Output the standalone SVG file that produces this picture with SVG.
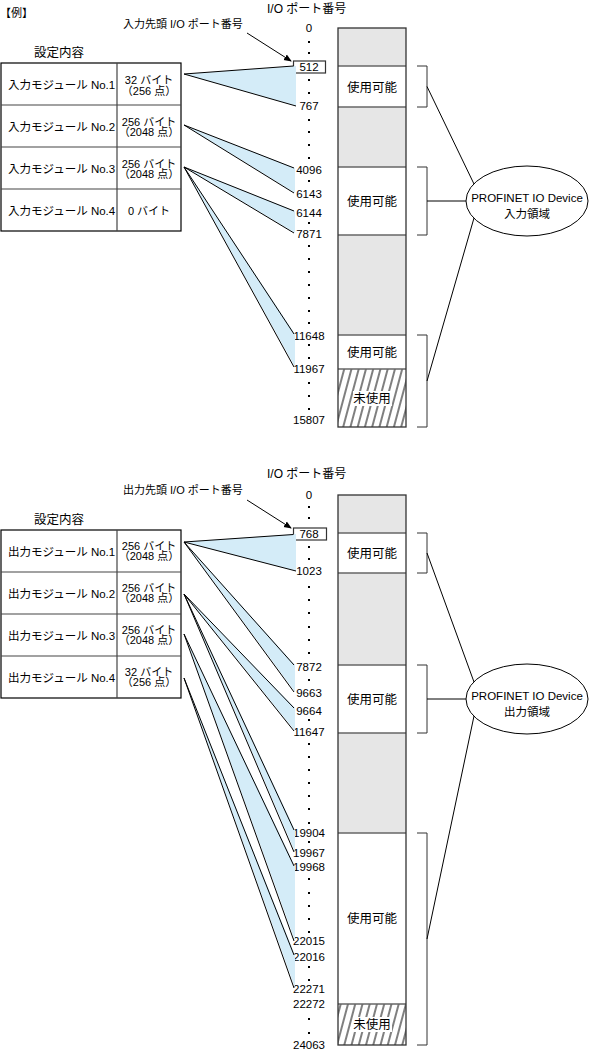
<svg xmlns="http://www.w3.org/2000/svg" width="596" height="1052" viewBox="0 0 596 1052">
<style>
text{font-family:"Liberation Sans","Noto Sans CJK JP",sans-serif;fill:#000}
.t11{font-size:11px}
.t115{font-size:11.5px}
.t12{font-size:12px}
.dev{font-size:11.5px;text-anchor:middle}
.lbl{font-size:12.5px;text-anchor:middle}
.mid{text-anchor:middle}
.num{font-size:11.5px;text-anchor:middle}
.cell{fill:#fff;stroke:#000;stroke-width:1.2}
.row{fill:none;stroke:#444;stroke-width:1.2}
.gray{fill:#e6e6e6}
.white{fill:#fff}
.div{stroke:#666;stroke-width:1.5}
.outer{fill:none;stroke:#333;stroke-width:1.3}
.br{fill:none;stroke:#333;stroke-width:1}
.wf{fill:#d4ecf8;stroke:none}
.ws{fill:none;stroke:#000;stroke-width:1}
.ln{stroke:#000;stroke-width:1;fill:none}
</style>
<defs>
<marker id="arr" markerWidth="8" markerHeight="8" refX="7" refY="4" orient="auto" markerUnits="userSpaceOnUse">
<path d="M0,0.8 L8,4 L0,7.2 Z" fill="#000"/>
</marker>
<pattern id="hatch" patternUnits="userSpaceOnUse" width="7" height="20" patternTransform="rotate(15)">
<line x1="1" y1="0" x2="1" y2="20" stroke="#000" stroke-width="1"/>
</pattern>
<g id="dotm"><rect x="-1" y="-1" width="2" height="2" fill="#000"/></g>
</defs>

<text class="t11" x="0" y="17">【例】</text>

<!-- ===== TOP (input) ===== -->
<g id="in-labels">
<text class="t12" x="267" y="13">I/O ポート番号</text>
<text class="t11" x="123" y="28">入力先頭 I/O ポート番号</text>
<text class="lbl" x="59" y="57">設定内容</text>
</g>

<g id="in-table">
<rect class="cell" x="1" y="63" width="180" height="168"/>
<line class="row" x1="117" y1="63" x2="117" y2="231"/>
<line class="row" x1="1" y1="105" x2="181" y2="105"/>
<line class="row" x1="1" y1="147" x2="181" y2="147"/>
<line class="row" x1="1" y1="189" x2="181" y2="189"/>
<g id="in-mod1"><text class="t115" x="8" y="89">入力モジュール No.1</text><text class="t11 mid" x="149" y="84">32 バイト</text><text class="t11 mid" x="149" y="95">（256 点）</text></g>
<g id="in-mod2"><text class="t115" x="8" y="131">入力モジュール No.2</text><text class="t11 mid" x="149" y="125.5">256 バイト</text><text class="t11 mid" x="149" y="135.5">（2048 点）</text></g>
<g id="in-mod3"><text class="t115" x="8" y="173">入力モジュール No.3</text><text class="t11 mid" x="149" y="167.5">256 バイト</text><text class="t11 mid" x="149" y="177.5">（2048 点）</text></g>
<g id="in-mod4"><text class="t115" x="8" y="215">入力モジュール No.4</text><text class="t11 mid" x="149" y="215">0 バイト</text></g>
</g>

<g id="in-ports">
<text class="num" x="309" y="32">0</text>
<rect x="293.5" y="61" width="32" height="12" fill="#fff" stroke="#333" stroke-width="1.2"/>
<text class="num" x="309" y="71">512</text>
<text class="num" x="309" y="110">767</text>
<text class="num" x="309" y="174">4096</text>
<text class="num" x="309" y="198">6143</text>
<text class="num" x="309" y="217">6144</text>
<text class="num" x="309" y="238">7871</text>
<text class="num" x="309" y="340">11648</text>
<text class="num" x="309" y="373">11967</text>
<text class="num" x="309" y="424">15807</text>
<g>
<use href="#dotm" x="309" y="42"/><use href="#dotm" x="309" y="53"/>
<use href="#dotm" x="309" y="80"/><use href="#dotm" x="309" y="93"/>
<use href="#dotm" x="309" y="120"/><use href="#dotm" x="309" y="132"/><use href="#dotm" x="309" y="145"/><use href="#dotm" x="309" y="158"/>
<use href="#dotm" x="309" y="181"/>
<use href="#dotm" x="309" y="223"/>
<use href="#dotm" x="309" y="246"/><use href="#dotm" x="309" y="259"/><use href="#dotm" x="309" y="272"/><use href="#dotm" x="309" y="285"/><use href="#dotm" x="309" y="298"/><use href="#dotm" x="309" y="311"/><use href="#dotm" x="309" y="323"/>
<use href="#dotm" x="309" y="345"/><use href="#dotm" x="309" y="358"/>
<use href="#dotm" x="309" y="383"/><use href="#dotm" x="309" y="396"/><use href="#dotm" x="309" y="409"/>
</g>
</g>

<g id="in-memory">
<rect class="gray" x="338" y="28" width="68" height="38"/>
<rect class="white" x="338" y="66" width="68" height="41"/>
<rect class="gray" x="338" y="107" width="68" height="60"/>
<rect class="white" x="338" y="167" width="68" height="68"/>
<rect class="gray" x="338" y="235" width="68" height="100"/>
<rect class="white" x="338" y="335" width="68" height="34"/>
<rect fill="#fff" x="338" y="369" width="68" height="58"/>
<rect fill="url(#hatch)" x="338" y="369" width="68" height="58"/>
<rect fill="#fff" x="353" y="391" width="39" height="15"/>
<line class="div" x1="338" y1="66" x2="406" y2="66"/>
<line class="div" x1="338" y1="107" x2="406" y2="107"/>
<line class="div" x1="338" y1="167" x2="406" y2="167"/>
<line class="div" x1="338" y1="235" x2="406" y2="235"/>
<line class="div" x1="338" y1="335" x2="406" y2="335"/>
<line class="div" x1="338" y1="369" x2="406" y2="369"/>
<rect class="outer" x="338" y="28" width="68" height="399"/>
<text class="lbl" x="372" y="92">使用可能</text>
<text class="lbl" x="372" y="206">使用可能</text>
<text class="lbl" x="372" y="357">使用可能</text>
<text class="lbl" x="372" y="403">未使用</text>
</g>

<g id="in-device">
<ellipse cx="527" cy="201" rx="61" ry="35" fill="#fff" stroke="#000" stroke-width="1"/>
<text class="dev" x="527" y="201.5">PROFINET IO Device</text>
<text class="dev" x="527" y="218">入力領域</text>
</g>

<g id="in-connectors">
<path class="ln" d="M247,33 L291,61" marker-end="url(#arr)"/>
<polygon class="wf" points="184,74 296,66 296,106"/>
<path class="ws" d="M293.5,66 L184,74 L296,106"/>
<polygon class="wf" points="184,125 295,168 295,193"/>
<path class="ws" d="M294,168 L184,125 L294,193"/>
<polygon class="wf" points="184,167 295,211 295,233"/>
<path class="ws" d="M294,211 L184,167 L294,233"/>
<polygon class="wf" points="184,167 295,334 295,367"/>
<path class="ws" d="M294,334 L184,167 L294,367"/>
<path class="br" d="M417,66 H427 V107 H417"/>
<path class="br" d="M417,167 H427 V235 H417"/>
<path class="br" d="M417,335 H427 V427 H417"/>
<line class="ln" x1="427" y1="86.5" x2="474" y2="184"/>
<line class="ln" x1="427" y1="201" x2="466" y2="201"/>
<line class="ln" x1="427" y1="381" x2="474" y2="218"/>
</g>

<!-- ===== BOTTOM (output) ===== -->
<g id="out-labels">
<text class="t12" x="267" y="478">I/O ポート番号</text>
<text class="t11" x="123" y="494">出力先頭 I/O ポート番号</text>
<text class="lbl" x="59" y="524">設定内容</text>
</g>

<g id="out-table">
<rect class="cell" x="1" y="530" width="180" height="168"/>
<line class="row" x1="117" y1="530" x2="117" y2="698"/>
<line class="row" x1="1" y1="572" x2="181" y2="572"/>
<line class="row" x1="1" y1="614" x2="181" y2="614"/>
<line class="row" x1="1" y1="656" x2="181" y2="656"/>
<g id="out-mod1"><text class="t115" x="8" y="556">出力モジュール No.1</text><text class="t11 mid" x="149" y="550">256 バイト</text><text class="t11 mid" x="149" y="560">（2048 点）</text></g>
<g id="out-mod2"><text class="t115" x="8" y="598">出力モジュール No.2</text><text class="t11 mid" x="149" y="592">256 バイト</text><text class="t11 mid" x="149" y="602">（2048 点）</text></g>
<g id="out-mod3"><text class="t115" x="8" y="640">出力モジュール No.3</text><text class="t11 mid" x="149" y="634">256 バイト</text><text class="t11 mid" x="149" y="644">（2048 点）</text></g>
<g id="out-mod4"><text class="t115" x="8" y="682">出力モジュール No.4</text><text class="t11 mid" x="149" y="676">32 バイト</text><text class="t11 mid" x="149" y="686">（256 点）</text></g>
</g>

<g id="out-ports">
<text class="num" x="309" y="499">0</text>
<rect x="293.5" y="528" width="33" height="12" fill="#fff" stroke="#333" stroke-width="1.2"/>
<text class="num" x="309" y="538">768</text>
<text class="num" x="309" y="575">1023</text>
<text class="num" x="309" y="671">7872</text>
<text class="num" x="309" y="697">9663</text>
<text class="num" x="309" y="715">9664</text>
<text class="num" x="309" y="736">11647</text>
<text class="num" x="309" y="837">19904</text>
<text class="num" x="309" y="857">19967</text>
<text class="num" x="309" y="871">19968</text>
<text class="num" x="309" y="945">22015</text>
<text class="num" x="309" y="961">22016</text>
<text class="num" x="309" y="993">22271</text>
<text class="num" x="309" y="1008">22272</text>
<text class="num" x="309" y="1049">24063</text>
<g>
<use href="#dotm" x="309" y="507"/><use href="#dotm" x="309" y="518"/>
<use href="#dotm" x="309" y="547"/><use href="#dotm" x="309" y="559"/>
<use href="#dotm" x="309" y="587"/><use href="#dotm" x="309" y="600"/><use href="#dotm" x="309" y="613"/><use href="#dotm" x="309" y="627"/><use href="#dotm" x="309" y="640"/><use href="#dotm" x="309" y="653"/>
<use href="#dotm" x="309" y="680"/>
<use href="#dotm" x="309" y="720"/>
<use href="#dotm" x="309" y="744"/><use href="#dotm" x="309" y="757"/><use href="#dotm" x="309" y="770"/><use href="#dotm" x="309" y="783"/><use href="#dotm" x="309" y="796"/><use href="#dotm" x="309" y="809"/><use href="#dotm" x="309" y="823"/>
<use href="#dotm" x="309" y="842"/>
<use href="#dotm" x="309" y="879"/><use href="#dotm" x="309" y="893"/><use href="#dotm" x="309" y="906"/><use href="#dotm" x="309" y="919"/><use href="#dotm" x="309" y="932"/>
<use href="#dotm" x="309" y="967"/><use href="#dotm" x="309" y="980"/>
<use href="#dotm" x="309" y="1019"/><use href="#dotm" x="309" y="1033"/>
</g>
</g>

<g id="out-memory">
<rect class="gray" x="338" y="495" width="68" height="38"/>
<rect class="white" x="338" y="533" width="68" height="40"/>
<rect class="gray" x="338" y="573" width="68" height="92"/>
<rect class="white" x="338" y="665" width="68" height="68"/>
<rect class="gray" x="338" y="733" width="68" height="100"/>
<rect class="white" x="338" y="833" width="68" height="171"/>
<rect fill="#fff" x="338" y="1004" width="68" height="41"/>
<rect fill="url(#hatch)" x="338" y="1004" width="68" height="41"/>
<rect fill="#fff" x="353" y="1017" width="39" height="15"/>
<line class="div" x1="338" y1="533" x2="406" y2="533"/>
<line class="div" x1="338" y1="573" x2="406" y2="573"/>
<line class="div" x1="338" y1="665" x2="406" y2="665"/>
<line class="div" x1="338" y1="733" x2="406" y2="733"/>
<line class="div" x1="338" y1="833" x2="406" y2="833"/>
<line class="div" x1="338" y1="1004" x2="406" y2="1004"/>
<rect class="outer" x="338" y="495" width="68" height="550"/>
<text class="lbl" x="372" y="558">使用可能</text>
<text class="lbl" x="372" y="704">使用可能</text>
<text class="lbl" x="372" y="923">使用可能</text>
<text class="lbl" x="372" y="1029">未使用</text>
</g>

<g id="out-device">
<ellipse cx="527" cy="699" rx="61" ry="35" fill="#fff" stroke="#000" stroke-width="1"/>
<text class="dev" x="527" y="699.5">PROFINET IO Device</text>
<text class="dev" x="527" y="716">出力領域</text>
</g>

<g id="out-connectors">
<path class="ln" d="M247,500 L291,528" marker-end="url(#arr)"/>
<polygon class="wf" points="184,542 296,534 296,571"/>
<path class="ws" d="M293.5,534.5 L184,542 L296,571"/>
<polygon class="wf" points="184,542 295,665 295,692"/>
<path class="ws" d="M294,665 L184,542 L294,692"/>
<polygon class="wf" points="184,594 295,708 295,731"/>
<path class="ws" d="M294,708 L184,594 L294,731"/>
<polygon class="wf" points="184,594 295,830 295,852"/>
<path class="ws" d="M294,830 L184,594 L294,852"/>
<polygon class="wf" points="184,634 295,866 295,941"/>
<path class="ws" d="M294,866 L184,634 L294,941"/>
<polygon class="wf" points="184,678 295,955 295,988"/>
<path class="ws" d="M294,955 L184,678 L294,988"/>
<path class="br" d="M417,533 H427 V573 H417"/>
<path class="br" d="M417,665 H427 V733 H417"/>
<path class="br" d="M417,833 H427 V1045 H417"/>
<line class="ln" x1="427" y1="553" x2="474" y2="682"/>
<line class="ln" x1="427" y1="699" x2="466" y2="699"/>
<line class="ln" x1="427" y1="939" x2="474" y2="716"/>
</g>
</svg>
